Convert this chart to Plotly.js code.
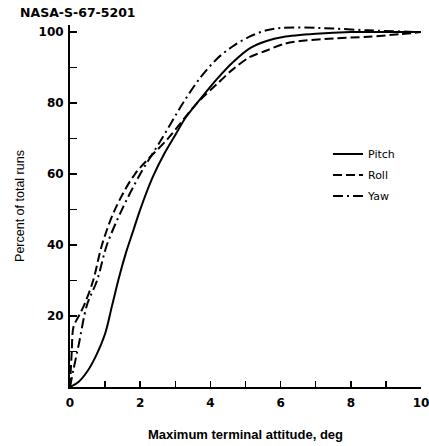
<!DOCTYPE html>
<html>
<head>
<meta charset="utf-8">
<script src="https://cdn.plot.ly/plotly-3.0.1.min.js"></script>
<style>html,body{margin:0;padding:0;background:#fff;}#chart{width:429px;height:446px;}</style>
</head>
<body>
<div id="chart"></div>
<script>
// Data
const seriesNames = ["Pitch", "Roll", "Yaw"];

const pitchX = [0, 0.25, 0.5, 0.75, 1.0, 1.2, 1.4, 1.6, 1.8, 2.0, 2.35, 2.7, 3.0, 3.3, 3.62, 4.19, 4.64, 5.13, 5.6, 6.07, 7.0, 8.0, 9.0, 10];
const pitchY = [0, 1.5, 4.5, 9, 15, 23, 31, 38, 44, 50, 59, 66, 71, 76, 80, 86.8, 91.5, 95.5, 97.5, 98.6, 99.5, 100, 100, 100];

const rollX = [0, 0.05, 0.1, 0.25, 0.4, 0.66, 0.91, 1.28, 1.85, 2.79, 3.62, 4.19, 4.64, 5.13, 5.6, 6.07, 6.5, 7.5, 8.5, 9.4, 10];
const rollY = [0, 10, 17, 20, 23, 30, 40, 50, 60, 70, 80, 85.4, 89.5, 93, 94.8, 96.6, 97.4, 98.2, 98.7, 99.4, 100];

const yawX = [0, 0.1, 0.25, 0.48, 0.77, 1.05, 1.48, 2.0, 2.62, 3.22, 3.7, 4.19, 4.64, 5.13, 5.6, 6.07, 7.0, 7.5, 8.5, 10];
const yawY = [0, 5, 12, 23, 30, 40, 50, 60, 70, 80, 87, 92.5, 96, 98.8, 100.5, 101.2, 101.2, 101, 100.5, 100];

const xTickVals = [0, 2, 4, 6, 8, 10];
const yTickVals = [20, 40, 60, 80, 100];

const FONT = "Liberation Sans, Arial, sans-serif";
const WIDE = "DejaVu Sans, sans-serif";

const traces = [
  {x: pitchX, y: pitchY, name: seriesNames[0], dash: "solid"},
  {x: rollX, y: rollY, name: seriesNames[1], dash: "9px,4px"},
  {x: yawX, y: yawY, name: seriesNames[2], dash: "10px,4px,2px,4px"}
].map((t, i) => ({
  type: "scatter", mode: "lines", x: t.x, y: t.y, name: t.name,
  legendgroup: "g" + i,
  line: {color: "#000", width: 2, dash: t.dash, shape: "spline", smoothing: 0.9}
}));

const layout = {
  width: 429, height: 446,
  margin: {l: 70, r: 8, t: 25, b: 59},
  paper_bgcolor: "#fff", plot_bgcolor: "#fff",
  font: {family: FONT, color: "#000"},
  showlegend: true,
  legend: {
    x: 0.735, y: 0.684, xanchor: "left", yanchor: "top",
    bgcolor: "rgba(0,0,0,0)", borderwidth: 0,
    font: {family: WIDE, size: 11, color: "#000"},
    traceorder: "grouped", tracegroupgap: 2
  },
  xaxis: {
    range: [0, 10], showgrid: false, zeroline: false,
    showline: true, linecolor: "#000", linewidth: 2,
    tickmode: "array", tickvals: xTickVals,
    ticks: "inside", ticklen: 6, tickwidth: 1.5, tickcolor: "#000",
    minor: {dtick: 1, tick0: 0, ticks: "inside", ticklen: 6, tickwidth: 1.5, tickcolor: "#000", showgrid: false},
    tickfont: {family: WIDE, size: 12, weight: "bold", color: "#000"},
    ticklabelstandoff: 4,
    ticklabeloverflow: "allow",
    title: {text: "Maximum terminal attitude, deg", standoff: 20,
            font: {family: FONT, size: 13, weight: "bold", color: "#000"}},
    automargin: false
  },
  yaxis: {
    range: [0, 102], showgrid: false, zeroline: false,
    showline: true, linecolor: "#000", linewidth: 2,
    tickmode: "array", tickvals: yTickVals,
    ticks: "inside", ticklen: 7, tickwidth: 1.5, tickcolor: "#000",
    minor: {dtick: 10, tick0: 0, ticks: "inside", ticklen: 7, tickwidth: 1.5, tickcolor: "#000", showgrid: false},
    tickfont: {family: WIDE, size: 12, weight: "bold", color: "#000"},
    ticklabelstandoff: 2,
    ticklabeloverflow: "allow",
    title: {text: "Percent of total runs", standoff: 11,
            font: {family: FONT, size: 12.5, color: "#000"}},
    automargin: false
  },
  annotations: [{
    text: "NASA-S-67-5201", xref: "paper", yref: "paper",
    x: -0.148, y: 1.035, xanchor: "left", yanchor: "middle",
    showarrow: false, font: {family: WIDE, size: 12.5, weight: "bold", color: "#000"}
  }]
};

Plotly.newPlot("chart", traces, layout, {displayModeBar: false, staticPlot: true});
</script>
</body>
</html>
